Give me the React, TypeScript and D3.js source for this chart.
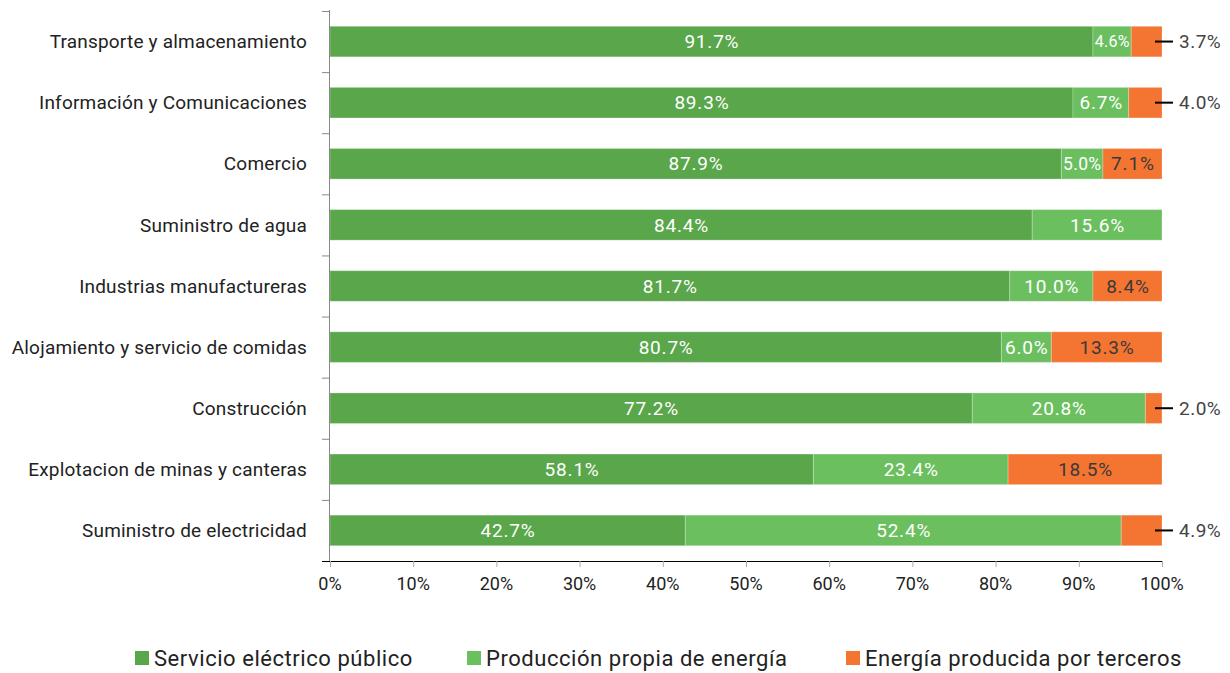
import React from "react";
import * as d3 from "d3";

const categories = [
  "Transporte y almacenamiento",
  "Información y Comunicaciones",
  "Comercio",
  "Suministro de agua",
  "Industrias manufactureras",
  "Alojamiento y servicio de comidas",
  "Construcción",
  "Explotacion de minas y canteras",
  "Suministro de electricidad",
];
const servicioPublico = [91.7, 89.3, 87.9, 84.4, 81.7, 80.7, 77.2, 58.1, 42.7];
const produccionPropia = [4.6, 6.7, 5.0, 15.6, 10.0, 6.0, 20.8, 23.4, 52.4];
const terceros = [3.7, 4.0, 7.1, 0, 8.4, 13.3, 2.0, 18.5, 4.9];
const seriesNames = ["Servicio eléctrico público", "Producción propia de energía", "Energía producida por terceros"];
const xTicks = [0, 10, 20, 30, 40, 50, 60, 70, 80, 90, 100];

const colors = ["#5aa64b", "#6bbf5f", "#f47432"];
const FONT = "Roboto, 'Noto Sans', sans-serif";

export default function App() {
  const W = 1230, H = 673;
  const left = 330, right = 1162, top = 11, bottom = 561;
  const x = d3.scaleLinear().domain([0, 100]).range([left, right]);
  const y = d3.scaleBand<string>().domain(categories).range([top, bottom]).paddingInner(0.5).paddingOuter(0.25);
  const band = d3.scaleBand<string>().domain(categories).range([top, bottom]);
  const series = [servicioPublico, produccionPropia, terceros];

  const segs: any[] = [];
  categories.forEach((c, i) => {
    let acc = 0;
    series.forEach((s, k) => {
      const v = s[i];
      const x0 = x(Math.min(acc, 100));
      acc += v;
      const x1 = x(Math.min(acc, 100));
      if (v > 0) segs.push({ c, i, k, v, x0, x1 });
    });
  });

  const labelW = (s: string, fs: number, ls: number) => {
    let w = 0;
    for (const ch of s) w += ch === "." ? 0.264 : ch === "%" ? 0.74 : 0.562;
    return w * fs + (s.length - 1) * ls;
  };

  return (
    <svg width={W} height={H} style={{ position: "absolute", left: 0, top: 0, fontFamily: FONT }}>
      {segs.map((d, j) => (
        <rect key={"r" + j} x={d.x0} y={y(d.c)} width={Math.max(0, d.x1 - d.x0)} height={y.bandwidth()}
          fill={colors[d.k]} stroke="#ffffff" strokeOpacity={0.25} strokeWidth={1} />
      ))}
      {segs.map((d, j) => {
        const w = d.x1 - d.x0;
        const text = d.v.toFixed(1) + "%";
        const cy = (y(d.c) as number) + y.bandwidth() / 2;
        if (d.k === 2 && d.v < 5) {
          return (
            <g key={"l" + j}>
              <line x1={right - 7} x2={right + 11} y1={cy} y2={cy} stroke="#000" strokeWidth={2} />
              <text x={right + 17} y={cy} dy="0.35em" fontSize={19} letterSpacing={0.5} fill="#444">{text}</text>
            </g>
          );
        }
        let fs = 19;
        let ls = 0.8;
        if (labelW(text, fs, ls) > w - 5) {
          ls = 0.3;
          while (fs > 10 && labelW(text, fs, ls) > w - 3) fs -= 0.5;
        }
        return (
          <text key={"l" + j} x={(d.x0 + d.x1) / 2 + ls / 2} y={cy} dy="0.35em" textAnchor="middle" fontSize={fs}
            letterSpacing={ls}
            fill={d.k === 2 ? "#3a3a3a" : "#ffffff"}>{text}</text>
        );
      })}
      <line x1={left - 0.5} x2={left - 0.5} y1={top - 1} y2={bottom} stroke="#888" strokeWidth={1} />
      {categories.map((c, i) => (
        <line key={"yt" + i} x1={left - 8} x2={left} y1={(band(c) as number) + 0.5} y2={(band(c) as number) + 0.5} stroke="#888" />
      ))}
      {categories.map((c, i) => (
        <text key={"yl" + i} x={307} y={(y(c) as number) + y.bandwidth() / 2} dy="0.35em" textAnchor="end"
          fontSize={19} letterSpacing={0.2} fill="#222">{c}</text>
      ))}
      <line x1={left - 8} x2={right} y1={bottom + 0.5} y2={bottom + 0.5} stroke="#000" strokeWidth={1} />
      {xTicks.map((t) => (
        <g key={"xt" + t}>
          <line x1={x(t) + 0.5} x2={x(t) + 0.5} y1={bottom} y2={bottom + 6} stroke="#aaa" />
          <text x={x(t)} y={584} dy="0.35em" textAnchor="middle" fontSize={18} fill="#222">{t}%</text>
        </g>
      ))}
      {seriesNames.map((n, k) => {
        const lx = [135, 467, 846][k];
        return (
          <g key={"lg" + k}>
            <rect x={lx} y={651} width={14} height={14} fill={colors[k]} />
            <text x={lx + 19} y={658} dy="0.35em" fontSize={22} letterSpacing={0.55} fill="#222">{n}</text>
          </g>
        );
      })}
    </svg>
  );
}
